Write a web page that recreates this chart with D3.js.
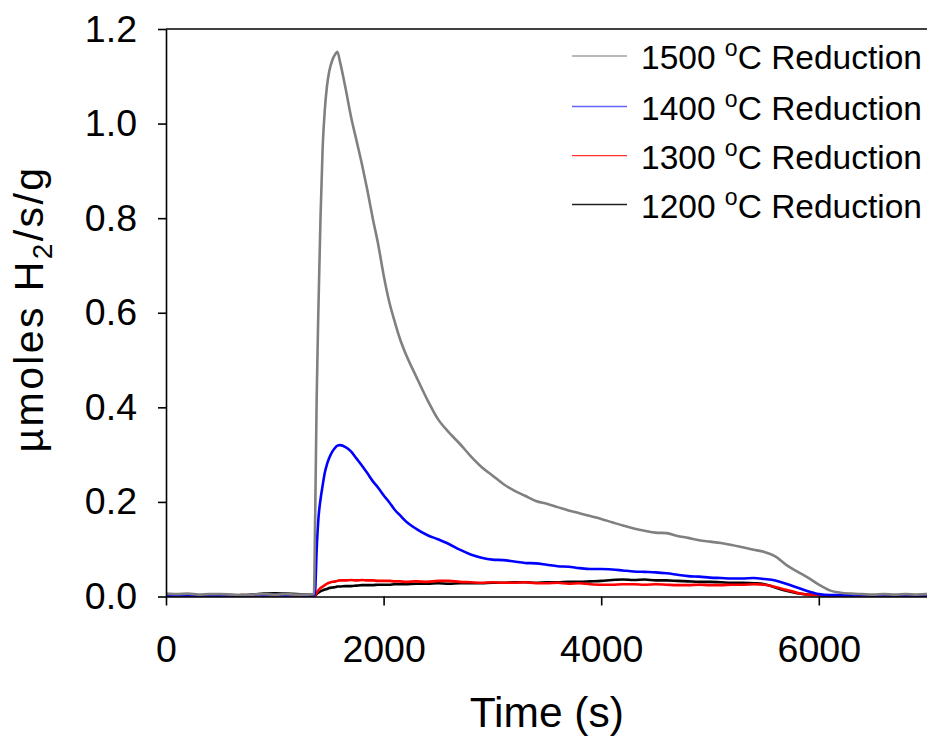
<!DOCTYPE html>
<html><head><meta charset="utf-8">
<script src="https://cdn.jsdelivr.net/npm/d3@7"></script>
<style>
html,body{margin:0;padding:0;background:#fff;}
svg{display:block;font-family:Arial,"Liberation Sans",sans-serif;}
</style></head>
<body>
<svg id="chart" width="927" height="740"></svg>
<script>
// ---- data ----
const times = [0,100,200,300,400,500,600,700,800,900,1000,1100,1200,1300,
  1360,1370,1385,1400,1420,1440,1460,1480,1500,1530,1560,1575,1600,1650,1700,1750,1800,1850,1900,1950,
  2000,2050,2100,2150,2200,2300,2400,2500,2600,2700,2800,2900,3000,3100,3200,3300,3400,3500,3600,3700,3800,3900,
  4000,4100,4200,4300,4400,4500,4600,4700,4800,4900,5000,5100,5200,5300,5400,5500,5600,5700,5800,5900,
  6000,6100,6200,6300,6400,6500,6600,6700,6800,6900,7000];

const h2_1500 = [0.006,0.005,0.006,0.004,0.005,0.005,0.004,0.003,0.004,0.005,0.004,0.005,0.004,0.004,
  0.005,0.15,0.42,0.60,0.80,0.95,1.03,1.08,1.11,1.135,1.148,1.152,1.13,1.075,1.015,0.965,0.915,0.86,0.80,0.745,
  0.68,0.625,0.583,0.545,0.515,0.465,0.417,0.375,0.347,0.323,0.297,0.274,0.256,0.238,0.224,0.213,0.202,0.196,0.189,0.182,0.176,0.170,
  0.164,0.157,0.150,0.144,0.139,0.135,0.134,0.128,0.124,0.119,0.116,0.113,0.109,0.104,0.099,0.094,0.085,0.067,0.053,0.040,
  0.025,0.013,0.008,0.006,0.005,0.004,0.005,0.004,0.005,0.004,0.005];

const h2_1400 = [0.003,0.002,0.003,0.002,0.003,0.002,0.003,0.002,0.003,0.002,0.003,0.002,0.003,0.002,
  0.003,0.010,0.100,0.162,0.205,0.235,0.262,0.280,0.293,0.307,0.316,0.319,0.320,0.316,0.307,0.292,0.277,0.261,0.244,0.230,
  0.214,0.200,0.184,0.172,0.160,0.143,0.130,0.121,0.111,0.099,0.089,0.082,0.078,0.077,0.074,0.071,0.070,0.067,0.064,0.063,0.060,0.058,
  0.058,0.057,0.055,0.053,0.052,0.051,0.049,0.046,0.043,0.042,0.040,0.039,0.038,0.038,0.039,0.037,0.034,0.027,0.019,0.011,
  0.005,0.003,0.003,0.002,0.003,0.002,0.003,0.002,0.003,0.002,0.003];

const h2_1300 = [0.003,0.002,0.003,0.002,0.003,0.003,0.002,0.003,0.002,0.003,0.002,0.003,0.002,0.003,
  0.002,0.003,0.008,0.013,0.018,0.021,0.024,0.027,0.029,0.031,0.032,0.033,0.034,0.034,0.035,0.034,0.035,0.034,0.034,0.033,
  0.033,0.033,0.032,0.032,0.031,0.032,0.031,0.033,0.033,0.031,0.030,0.029,0.030,0.029,0.029,0.030,0.028,0.028,0.029,0.027,0.028,0.026,
  0.025,0.025,0.026,0.026,0.025,0.026,0.025,0.024,0.024,0.025,0.024,0.024,0.025,0.025,0.026,0.025,0.020,0.014,0.008,0.004,
  0.003,0.002,0.003,0.002,0.003,0.002,0.003,0.002,0.003,0.002,0.003];

const h2_1200 = [0.002,0.002,0.002,0.002,0.002,0.002,0.002,0.003,0.004,0.006,0.007,0.006,0.005,0.004,
  0.002,0.002,0.005,0.008,0.011,0.013,0.015,0.016,0.018,0.019,0.020,0.021,0.021,0.022,0.022,0.023,0.024,0.024,0.024,0.025,
  0.025,0.025,0.026,0.026,0.026,0.027,0.027,0.028,0.027,0.028,0.028,0.028,0.029,0.029,0.030,0.030,0.029,0.030,0.030,0.031,0.031,0.032,
  0.033,0.035,0.036,0.035,0.036,0.034,0.034,0.033,0.032,0.031,0.031,0.030,0.029,0.029,0.028,0.026,0.019,0.012,0.007,0.004,
  0.003,0.002,0.002,0.002,0.002,0.002,0.002,0.002,0.002,0.002,0.002];

const seriesNames = ["1500","1400","1300","1200"];
const seriesColors = ["#808080","#0000ff","#ff0000","#000000"];
const legendLineColors = ["#a0a0a0","#6464ff","#ff3030","#202020"];
const xTicks = [0,2000,4000,6000];
const yTicks = [0.0,0.2,0.4,0.6,0.8,1.0,1.2];

// ---- chart ----
const svg = d3.select("#chart");
const x = d3.scaleLinear().domain([0,7000]).range([166,927.6]);
const y = d3.scaleLinear().domain([0,1.2]).range([596.5,29]);

const allSeries = [h2_1500,h2_1400,h2_1300,h2_1200];
const line = d3.line().x((d,i)=>x(times[i])).y(d=>y(d)).curve(d3.curveMonotoneX);

// draw order: black, red, blue, gray on top
[3,2,1,0].forEach(k=>{
  svg.append("path").datum(allSeries[k])
    .attr("d",line).attr("fill","none")
    .attr("stroke",seriesColors[k]).attr("stroke-width",2.6)
    .attr("stroke-linejoin","round");
});

// axes
const xAxis = svg.append("g").attr("transform","translate(0,596.5)")
  .call(d3.axisBottom(x).tickValues(xTicks).tickSize(9).tickSizeOuter(0).tickPadding(30).tickFormat(d3.format("d")));
const yAxis = svg.append("g").attr("transform","translate(166,0)")
  .call(d3.axisLeft(y).tickValues(yTicks).tickSize(8).tickSizeOuter(0).tickPadding(21).tickFormat(d3.format(".1f")));
[xAxis,yAxis].forEach(a=>{
  a.select(".domain").attr("stroke","#000").attr("stroke-width",1.6);
  a.selectAll(".tick line").attr("stroke","#000").attr("stroke-width",1.6);
  a.selectAll(".tick text").attr("fill","#000").attr("font-size",37.5).attr("font-family","Arial, 'Liberation Sans', sans-serif");
});
xAxis.selectAll(".tick text").attr("dy","0.71em");
// top frame
svg.append("line").attr("x1",166).attr("x2",927).attr("y1",y(1.2)).attr("y2",y(1.2))
  .attr("stroke","#000").attr("stroke-width",1.6);

// axis titles
svg.append("text").attr("x",(166+927.6)/2).attr("y",727).attr("text-anchor","middle")
  .attr("font-size",42.5).attr("fill","#000").text("Time (s)");
const yt = svg.append("text").attr("transform","translate(43,309) rotate(-90)")
  .attr("text-anchor","middle").attr("font-size",41).attr("letter-spacing",2.4).attr("fill","#000");
yt.append("tspan").text("\u00B5moles H");
yt.append("tspan").attr("font-size",28).attr("dy",9).text("2");
yt.append("tspan").attr("dy",-9).text("/s/g");

// legend
const legendY = [56,106.5,155.7,204.5];
seriesNames.forEach((n,i)=>{
  svg.append("line").attr("x1",572).attr("x2",627).attr("y1",legendY[i]).attr("y2",legendY[i])
    .attr("stroke",legendLineColors[i]).attr("stroke-width",1.3);
  const t = svg.append("text").attr("x",641).attr("y",legendY[i]+13).attr("font-size",33.5).attr("fill","#000");
  t.append("tspan").text(n+" ");
  t.append("tspan").attr("font-size",23).attr("dy",-13).text("o");
  t.append("tspan").attr("dy",13).text("C Reduction");
});
</script>
</body></html>
